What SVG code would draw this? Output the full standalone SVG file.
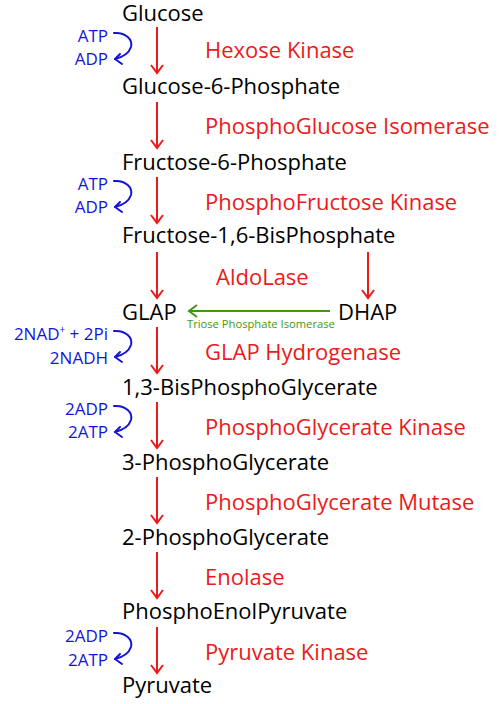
<svg xmlns="http://www.w3.org/2000/svg" width="499" height="704" viewBox="0 0 499 704">
<defs>
<style>
.m{font-family:"Open Sans","Noto Sans",sans-serif;font-size:22px;fill:#000}
.e{font-family:"Open Sans","Noto Sans",sans-serif;font-size:22px;fill:#ec1a1a}
.c{font-family:"Open Sans","Noto Sans",sans-serif;font-size:17px;fill:#1414d8;text-anchor:end}
.g{font-family:"Open Sans","Noto Sans",sans-serif;font-size:11.2px;fill:#3c9a0c}
.ra{stroke:#ec1a1a;stroke-width:2;fill:none}
.ba{stroke:#1414d8;stroke-width:2;fill:none;stroke-linecap:round;stroke-linejoin:round}
.ga{stroke:#3c9a0c;stroke-width:2;fill:none}
</style>
<g id="curl">
<path class="ba" d="M114,33 C126,32 133,40 131,47 C129,53 123,57 115,59"/>
<path class="ba" d="M120,54 L115,59 L122,64"/>
</g>
</defs>
<g id="connectors">
<g class="ra">
<path d="M157,27 V72 M151,65 L157,73 L163,65"/>
<path d="M157,102 V147 M151,140 L157,148 L163,140"/>
<path d="M157,177 V222 M151,215 L157,223 L163,215"/>
<path d="M157,252 V297 M151,290 L157,298 L163,290"/>
<path d="M368,252 V297 M362,290 L368,298 L374,290"/>
<path d="M157,327 V372 M151,365 L157,373 L163,365"/>
<path d="M157,402 V447 M151,440 L157,448 L163,440"/>
<path d="M157,477 V522 M151,515 L157,523 L163,515"/>
<path d="M157,552 V597 M151,590 L157,598 L163,590"/>
<path d="M157,627 V672 M151,665 L157,673 L163,665"/>
</g>
<path class="ga" d="M330,311 H190 M197,305 L189,311 L197,317"/>
<use href="#curl"/>
<use href="#curl" transform="translate(0,148)"/>
<use href="#curl" transform="translate(0,298)"/>
<use href="#curl" transform="translate(0,373)"/>
<use href="#curl" transform="translate(0,600)"/>
</g>
<g id="n-glucose"><text class="m" x="122" y="21">Glucose</text></g>
<g id="n-g6p"><text class="m" x="122" y="94">Glucose-6-Phosphate</text></g>
<g id="n-f6p"><text class="m" x="122" y="170">Fructose-6-Phosphate</text></g>
<g id="n-f16bp"><text class="m" x="122" y="243">Fructose-1,6-BisPhosphate</text></g>
<g id="n-glap"><text class="m" x="122" y="320">GLAP</text></g>
<g id="n-dhap"><text class="m" x="338" y="320">DHAP</text></g>
<g id="n-13bpg"><text class="m" x="122" y="395">1,3-BisPhosphoGlycerate</text></g>
<g id="n-3pg"><text class="m" x="122" y="470">3-PhosphoGlycerate</text></g>
<g id="n-2pg"><text class="m" x="122" y="545">2-PhosphoGlycerate</text></g>
<g id="n-pep"><text class="m" x="122" y="619">PhosphoEnolPyruvate</text></g>
<g id="n-pyr"><text class="m" x="122" y="693">Pyruvate</text></g>
<g id="enzymes">
<text class="e" x="205" y="58">Hexose Kinase</text>
<text class="e" x="205" y="134">PhosphoGlucose Isomerase</text>
<text class="e" x="205" y="210">PhosphoFructose Kinase</text>
<text class="e" x="216" y="285">AldoLase</text>
<text class="e" x="205" y="360">GLAP Hydrogenase</text>
<text class="e" x="205" y="435">PhosphoGlycerate Kinase</text>
<text class="e" x="205" y="510">PhosphoGlycerate Mutase</text>
<text class="e" x="205" y="585">Enolase</text>
<text class="e" x="205" y="660">Pyruvate Kinase</text>
<text class="g" x="187" y="328">Triose Phosphate Isomerase</text>
</g>
<g id="cofactors">
<text class="c" x="108" y="42">ATP</text>
<text class="c" x="108" y="65">ADP</text>
<text class="c" x="108" y="190">ATP</text>
<text class="c" x="108" y="213">ADP</text>
<text class="c" x="108" y="340">2NAD<tspan dy="-7" font-size="10">+</tspan><tspan dy="7"> + 2Pi</tspan></text>
<text class="c" x="108" y="364">2NADH</text>
<text class="c" x="108" y="415">2ADP</text>
<text class="c" x="108" y="438">2ATP</text>
<text class="c" x="108" y="642">2ADP</text>
<text class="c" x="108" y="666">2ATP</text>
</g>
</svg>
